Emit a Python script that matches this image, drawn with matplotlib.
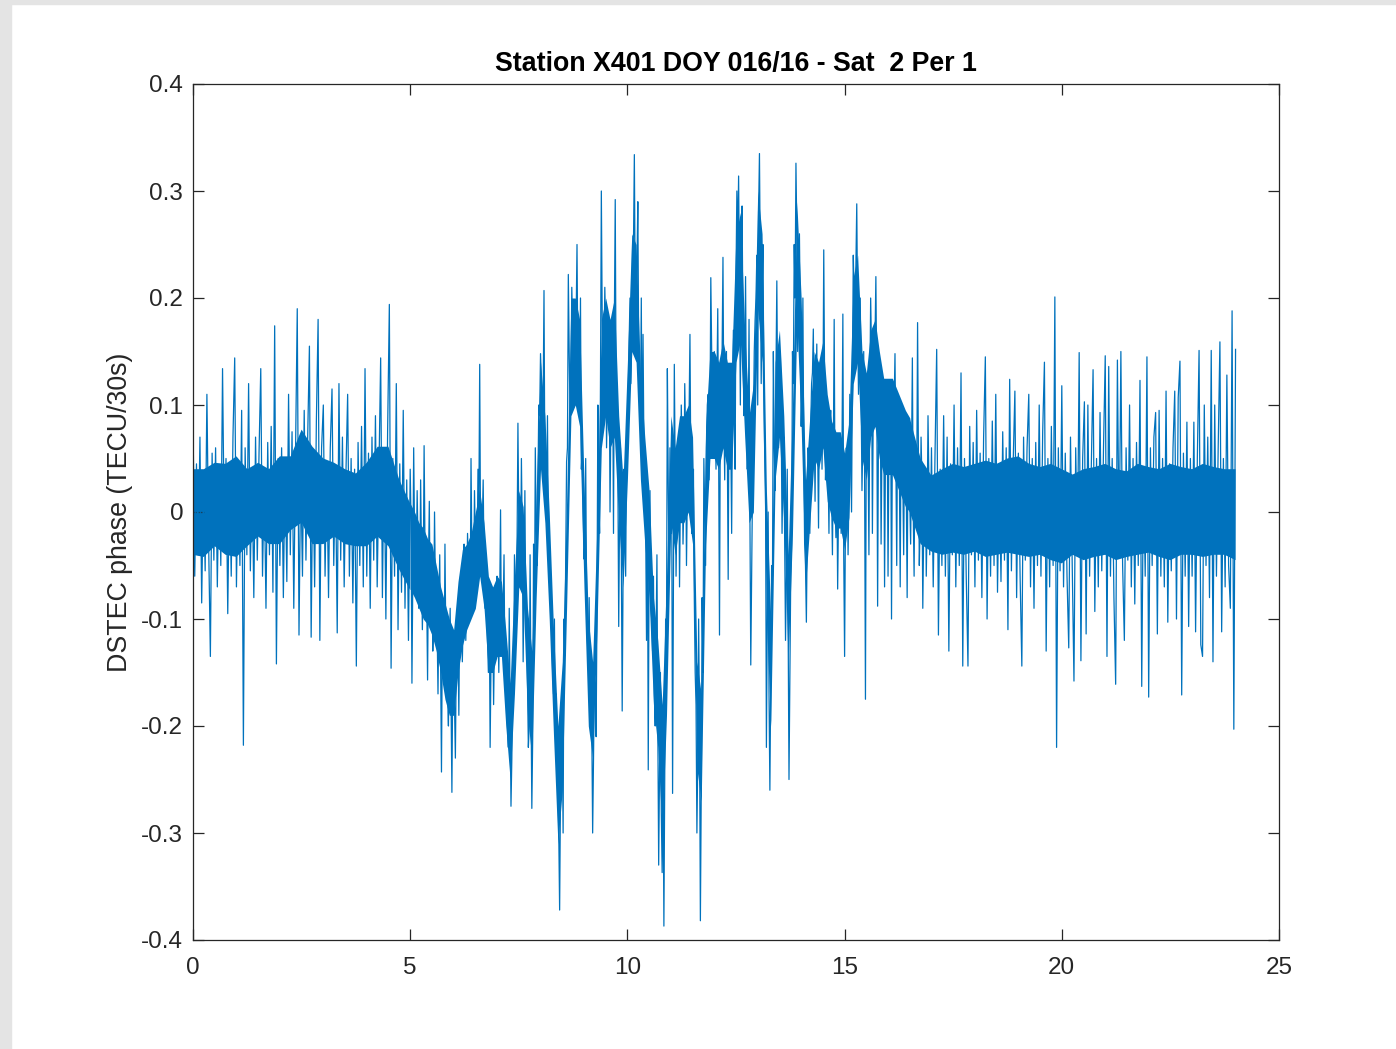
import numpy as np
import matplotlib.pyplot as plt
from matplotlib.patches import Rectangle

plt.rcParams['font.family'] = ['Liberation Sans', 'DejaVu Sans']
plt.rcParams['axes.unicode_minus'] = False

# DSTEC phase, in milli-TECU, one value every 0.04 h
# (one row per hour, 25 samples per row), last value at t = 24 h
h00 = [86, -60, 45, -40, 70, -85, 30, -55, 110, -30, -135, 55, -45, 60, -70, 40, -50, 134, -20, 50, -95, 35, -60, 70, 144]
h01 = [-70, 40, -50, 95, -218, 60, -40, 120, -55, 35, -80, 70, -45, 55, 134, -60, 30, -90, 65, -40, 80, -75, 174, -142, 50]
h02 = [-50, 60, -80, 45, -65, 110, -40, 75, -90, 55, 190, -115, 40, -60, 95, -45, 70, 155, -117, 50, -70, 85, 180, -120, 60]
h03 = [100, -60, 45, -80, 60, 115, -50, 40, -113, 120, -45, 70, -70, 35, 110, -60, 50, -85, 40, -144, 65, -50, 80, -70, 134]
h04 = [-60, 55, -90, 70, -45, 90, -70, 40, 144, -80, 60, -100, 75, 194, -146, 50, -60, 120, -110, 45, -75, 95, -90, 30, -120]
h05 = [40, -160, 60, -40, 20, -90, 30, -110, 62, -70, -157, 10, -60, -130, 0, -80, -170, -40, -243, -100, -30, -150, -200, -90, -262]
h06 = [-130, -230, -150, -190, -60, -140, -30, -120, -20, -100, 50, -80, 20, -60, 40, 138, -20, 30, -90, -70, -150, -220, -100, -180, -90]
h07 = [-60, -150, 2, -110, -40, -130, -200, -90, -275, -150, -40, -120, 83, -60, 50, -140, 20, -100, -220, -40, -277, -30, 60, -50, 100]
h08 = [148, 60, 207, 0, 90, -40, -60, -150, -100, -170, -240, -372, -200, -300, -134, 47, 222, 90, 210, 120, 180, 250, 150, 200, 60]
h09 = [-44, 50, -120, -80, -190, -300, -150, -210, 100, -20, 300, 120, 210, 60, 180, 0, 150, -20, 292, 80, -107, 60, -186, 40, -60]
h10 = [60, 160, 120, 250, 334, 150, 290, 110, 200, 166, 60, -120, -241, 20, -100, -60, -200, -40, -330, -150, -337, -387, -100, 134, -60]
h11 = [-20, -263, 138, -60, 60, -70, 100, -30, 120, -50, 80, 166, -20, 40, -150, -300, -100, -382, -80, 50, -50, 100, 30, 219, 60]
h12 = [150, 40, 190, -115, 60, 238, 30, 150, -63, 120, -20, 170, 40, 300, 314, 100, 286, 90, 220, 40, 180, -143, 24, 150, 200]
h13 = [100, 335, 120, 250, 60, -220, 0, -260, -50, 150, 20, 216, 60, 150, -20, 70, -120, 40, -250, -60, 150, 250, 326, 150, 260]
h14 = [80, 200, -30, -103, 60, -20, 120, 171, 10, 157, -15, 120, 40, 245, 30, 100, -20, 95, -40, 180, -24, -72, 60, -20, 185]
h15 = [-135, 60, -40, 110, 0, 240, 130, 288, 110, 200, 20, 150, -175, 80, -40, 200, -20, 120, 220, -88, 140, -30, 100, -70, 90]
h16 = [-60, 120, -100, 80, 148, -50, 100, -70, 60, -40, 90, -80, 40, -30, 144, -60, 50, 177, -50, 70, -90, 40, -60, 90, -40]
h17 = [60, -70, 50, 152, -115, 40, -50, 90, -60, 70, -130, 45, -40, 100, -70, 60, -50, 130, -144, 50, -60, -144, 80, -40, 65]
h18 = [-70, 95, -45, 55, -80, 70, 145, -100, 50, -60, 85, -50, 110, -75, 40, -65, 75, -45, 60, -110, 124, -55, 45, 113, -80]
h19 = [55, -60, -144, 70, -45, 60, 110, -70, 50, -90, 65, -50, 100, -60, 75, 140, -130, 50, -70, 80, -50, 201, -220, 60, -55]
h20 = [118, -70, 55, -60, -127, 70, -50, -158, 60, -40, 149, -139, 50, 103, -114, 100, -60, 45, 133, -93, 50, -70, 93, -55, 60]
h21 = [146, -135, 136, -60, 50, -80, -161, 142, -40, 150, -50, -120, 60, -45, 100, -70, 50, -86, 65, -50, 123, -163, 40, -60, 145]
h22 = [-173, 60, -50, 70, 93, -114, 95, -60, 50, -70, 113, -103, 45, -55, 60, 113, -100, 107, 141, -171, 55, -60, 84, -107, 50]
h23 = [-60, 84, -112, 50, 151, -124, -135, 100, -50, 70, -80, 151, -140, 100, -60, 60, 159, -112, 50, -70, 128, -50, -90, 188, -203]
h24 = [152]

# extra samples in the disturbed part (5 h - 17 h), milli-TECU at h + 0.02 + 0.04 k
m05 = [-10, -60, -20, -50, -30, -70, -40, -60, -30, -80, -50, -90, -60, -100, -70, -110, -90, -140, -110, -160, -120, -170, -130, -180, -150]
m06 = [-180, -140, -120, -90, -70, -100, -60, -80, -50, -90, -40, -70, -30, -50, 0, -30, -10, -50, -80, -120, -90, -140, -100, -120, -80]
m07 = [-110, -80, -120, -90, -150, -190, -220, -180, -230, -170, -80, -30, -10, -60, -20, -70, -100, -160, -200, -170, -210, -100, -20, 30, 90]
m08 = [120, 100, 40, 10, -30, -80, -120, -170, -200, -250, -300, -260, -200, -100, -40, 60, 150, 120, 170, 130, 180, 130, 100, 40, 0]
m09 = [-30, -80, -140, -170, -200, -230, -160, -90, 20, 120, 180, 140, 170, 110, 150, 90, 140, 180, 110, 40, 0, -40, -60, 10, 50]
m10 = [110, 200, 160, 250, 200, 230, 150, 90, 40, 60, -10, 20, -40, -90, -130, -170, -120, -200, -240, -280, -230, -250, -120, 30, 60]
m11 = [20, -60, 40, 0, 70, 20, 60, 10, 70, 20, 90, 40, 0, -80, -180, -230, -200, -260, -150, 0, 60, 110, 80, 150, 100]
m12 = [80, 120, 60, 100, 150, 90, 130, 60, 110, 70, 120, 90, 220, 250, 200, 240, 170, 120, 90, 60, 0, -60, 80, 180, 240]
m13 = [280, 230, 200, 130, 20, -100, -170, -150, -60, 60, 130, 100, 140, 90, 40, -20, -60, -100, -150, -30, 120, 200, 260, 220, 180]
m14 = [120, 50, -50, -20, 30, 80, 130, 80, 110, 60, 100, 140, 90, 120, 60, 40, 70, 20, 50, 10, 40, 0, 30, 60, -40]
m15 = [0, 40, 20, 60, 130, 200, 230, 180, 160, 110, 70, 40, 90, 60, 110, 150, 100, 160, 120, 80, 120, 60, 100, 50, 90]
m16 = [60, 110, 70, 100, 50, 90, 40, 80, 30, 70, 20, 60, 10, 50, 0, 60, 20, 50, -10, 30, -20, 40, -10, 30, 0]

# dense core of the trace (where the 30 s samples pile up), milli-TECU
# quiet hours: every 0.25 h from 0 h to 24 h
core_lo = [-40, -42, -32, -40, -42, -32, -23, -30, -30, -17, -10, -30, -30, -23, -30, -32,
           -32, -23, -32, -54, -73, -95, -110, -157, -190, -100, -70, -130, -130, -200, -80, -200,
           10, -150, -250, 80, -10, -220, 106, 0, 60, 50, -120, -266, -60, -57, -40, -150,
           13, 13, 124, 50, 150, -180, 52, -127, 60, 20, 70, 0, -20, 160, 16, 52,
           16, 10, 0, -30, -37, -40, -38, -40, -37, -42, -40, -38, -40, -42, -40, -45,
           -48, -40, -45, -42, -40, -45, -42, -40, -38, -42, -45, -40, -40, -42, -40, -40, -45]
core_hi = [40, 40, 46, 45, 52, 40, 46, 40, 52, 52, 77, 61, 50, 46, 40, 36,
           46, 61, 61, 30, 8, -10, -32, -73, -110, -30, 0, -30, -60, -90, 30, -60,
           130, -10, -120, 200, 130, -127, 200, 180, 170, 200, -20, -127, 60, 83, 90, -20,
           106, 152, 285, 200, 300, -55, 160, 16, 200, 110, 140, 88, 34, 230, 124, 140,
           106, 100, 88, 50, 34, 40, 45, 42, 45, 48, 45, 50, 52, 45, 42, 45,
           40, 35, 40, 42, 45, 40, 38, 45, 42, 40, 45, 42, 40, 45, 42, 40, 40]
# disturbed hours: every 0.1 h from 5.0 h to 16.5 h
act_lo = [-72, -80, -90, -100, -105, -115, -130, -150, -175, -190,
          -190, -150, -125, -110, -100, -90, -60, -90, -150, -150,
          -135, -135, -200, -250, -170, -70, -80, -190, -230, -80,
          40, -10, -100, -210, -310, -260, -90, 90, 100, 80,
          -70, -200, -230, -110, 60, 90, 60, 70, -10, -70,
          30, 150, 140, 30, -30, -80, -180, -220, -300, -190,
          -10, -40, -10, -10, 0, -30, -240, -270, -30, 50,
          50, 40, 60, 40, 40, 140, 160, 70, -10, 0,
          190, 140, -100, -200, 30, 70, -10, -140, -20, 180,
          80, -70, -10, 50, 40, 60, 10, -5, -15, -15,
          -35, -5, 120, 140, 50, 30, 70, 80, 50, 35,
          35, 35, 25, 15, 5, 0]
act_hi = [8, 0, -10, -15, -25, -30, -50, -70, -85, -100,
          -110, -65, -35, -30, -20, 0, 20, -10, -60, -70,
          -60, -65, -110, -160, -60, 20, 5, -90, -130, 20,
          140, 90, 0, -110, -200, -140, 10, 200, 200, 180,
          30, -100, -140, -10, 180, 200, 180, 200, 90, 30,
          140, 260, 250, 130, 70, 20, -80, -120, -180, -60,
          90, 60, 90, 90, 100, 70, -140, -170, 80, 150,
          150, 140, 160, 140, 140, 260, 280, 170, 90, 120,
          300, 260, 20, -100, 140, 170, 90, -40, 100, 290,
          200, 30, 90, 150, 140, 160, 110, 85, 75, 75,
          55, 85, 220, 240, 150, 130, 170, 180, 150, 125,
          125, 125, 115, 105, 95, 88]

rows = [h00, h01, h02, h03, h04, h05, h06, h07, h08, h09, h10, h11,
        h12, h13, h14, h15, h16, h17, h18, h19, h20, h21, h22, h23, h24]
mids = [m05, m06, m07, m08, m09, m10, m11, m12, m13, m14, m15, m16]

main_v = np.concatenate(rows) / 1000.0
main_t = np.arange(len(main_v)) * 0.04
mid_v = np.concatenate(mids) / 1000.0
mid_t = 5.02 + np.arange(len(mid_v)) * 0.04

hours = np.concatenate([main_t, mid_t])
dstec = np.concatenate([main_v, mid_v])
order = np.argsort(hours)
hours, dstec = hours[order], dstec[order]

core_t = np.arange(len(core_lo)) * 0.25
quiet = (core_t <= 5.0) | (core_t >= 16.5)
act_t = 5.0 + np.arange(len(act_lo)) * 0.1

fig = plt.figure(figsize=(13.96, 10.49), dpi=100)
# grey screenshot margins
fig.patches.append(Rectangle((0, 0), 11 / 1396, 1, transform=fig.transFigure, color='#e4e4e4', zorder=-1))
fig.patches.append(Rectangle((0, 1 - 4 / 1049), 1, 4 / 1049, transform=fig.transFigure, color='#e4e4e4', zorder=-1))

ax = fig.add_axes([193 / 1396, 1 - 940 / 1049, (1279 - 193) / 1396, (940 - 84) / 1049])
ax.fill_between(core_t, np.array(core_lo) / 1000.0, np.array(core_hi) / 1000.0,
                where=quiet, color='#0072BD', linewidth=0)
ax.fill_between(act_t, np.array(act_lo) / 1000.0, np.array(act_hi) / 1000.0,
                color='#0072BD', linewidth=0)
ax.plot(hours, dstec, color='#0072BD', linewidth=0.9)

ax.set_xlim(0, 25)
ax.set_ylim(-0.4, 0.4)
ax.set_xticks([0, 5, 10, 15, 20, 25])
ax.set_yticks([-0.4, -0.3, -0.2, -0.1, 0, 0.1, 0.2, 0.3, 0.4])
ax.set_yticklabels(['-0.4', '-0.3', '-0.2', '-0.1', '0', '0.1', '0.2', '0.3', '0.4'])
ax.tick_params(direction='in', length=8, width=0.9, color='#262626', labelcolor='#262626',
               labelsize=17.5, top=True, right=True)
ax.tick_params(axis='x', pad=12)
ax.tick_params(axis='y', pad=7)
for s in ax.spines.values():
    s.set_color('#262626')
    s.set_linewidth(0.9)

ax.set_ylabel('DSTEC phase (TECU/30s)', fontsize=19.3, color='#262626', labelpad=6)
ax.set_title('Station X401 DOY 016/16 - Sat  2 Per 1', fontsize=19.3, fontweight='bold', pad=9)

fig.savefig('out.png', dpi=100)
